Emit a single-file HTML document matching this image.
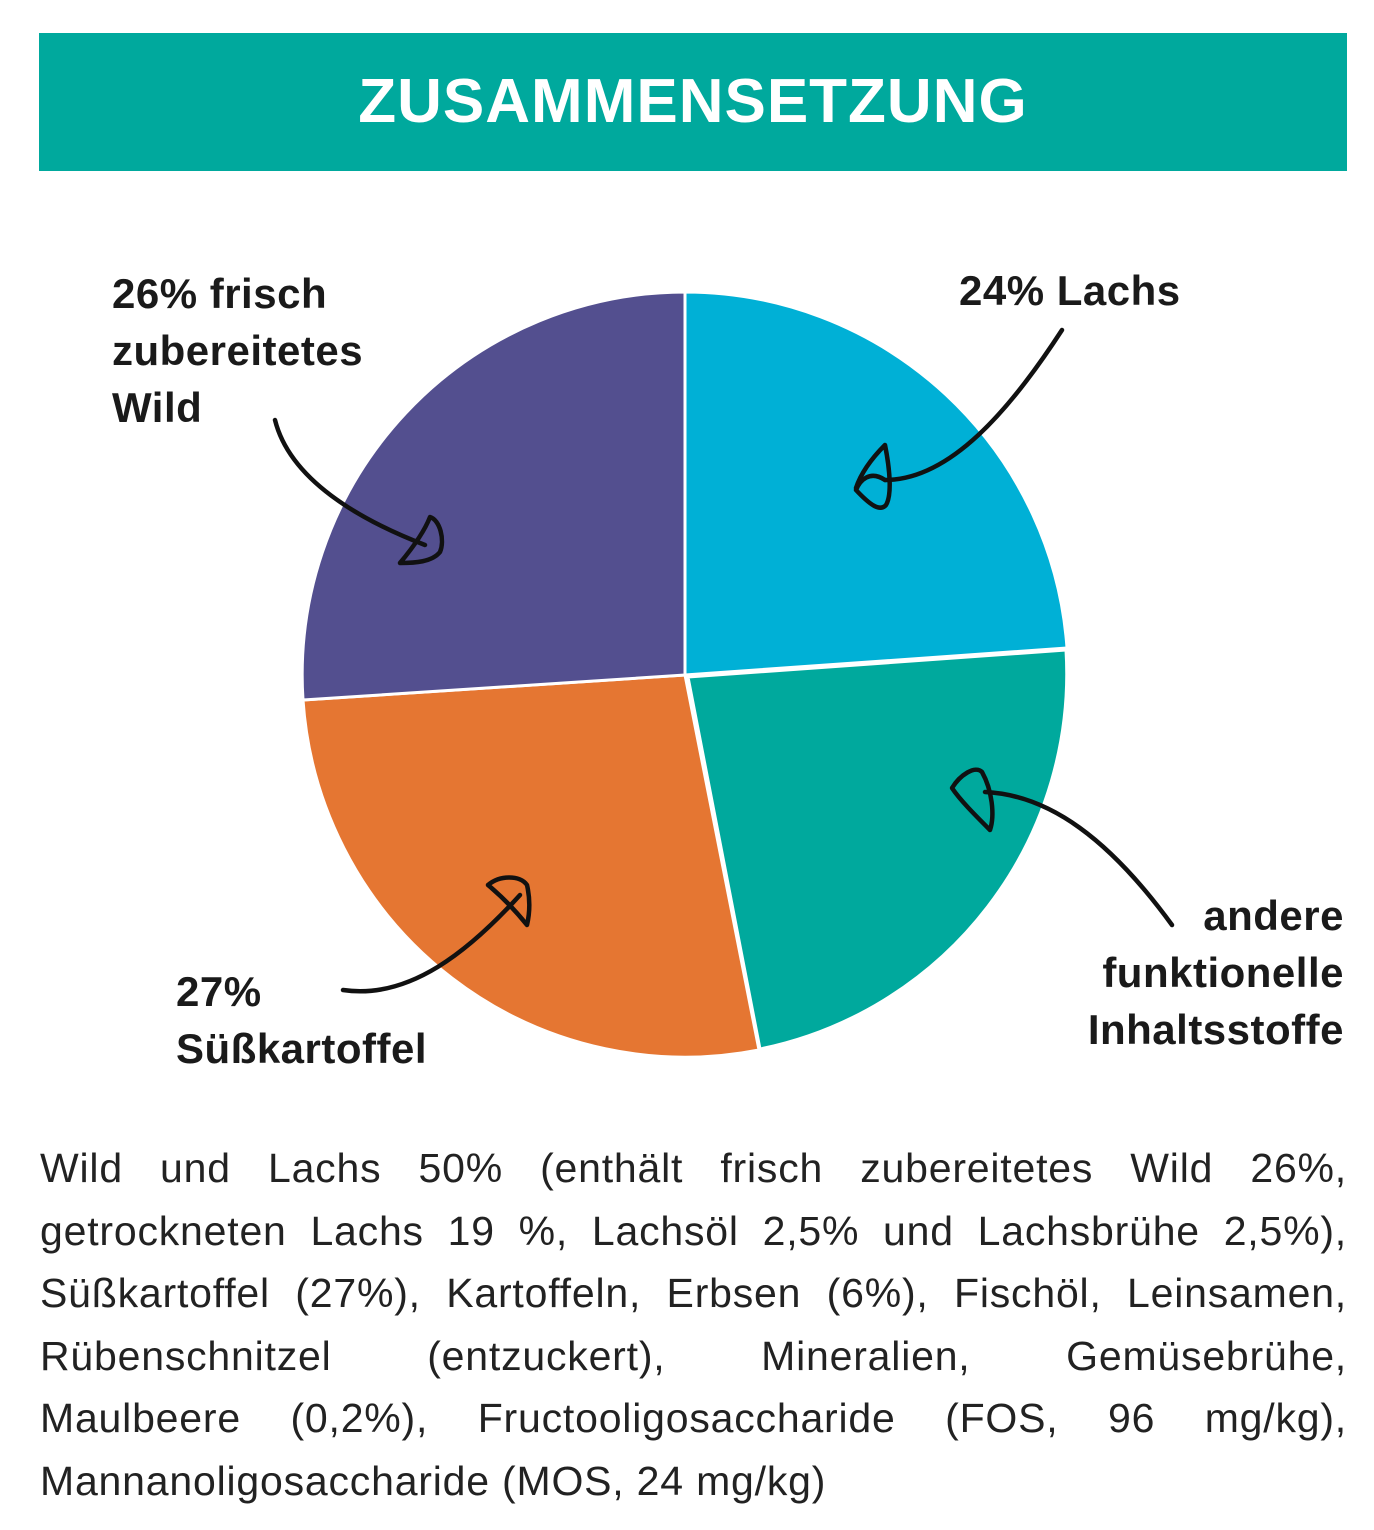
<!DOCTYPE html>
<html><head><meta charset="utf-8"><style>
html,body{margin:0;padding:0;background:#fff;}
body{width:1374px;height:1530px;position:relative;overflow:hidden;font-family:"Liberation Sans","DejaVu Sans",sans-serif;}
.bar{position:absolute;left:39px;top:33px;width:1308px;height:138px;background:#00a99d;color:#fff;font-weight:bold;font-size:62px;text-align:center;line-height:138px;letter-spacing:1px;}
.lbl{position:absolute;font-weight:bold;font-size:42px;line-height:57px;color:#1a1a1a;letter-spacing:0.5px;}
.txt{position:absolute;left:40px;top:1137px;width:1307px;font-size:41px;line-height:62.5px;color:#222;letter-spacing:0.8px;}
.txt div{text-align:justify;text-align-last:justify;height:62.5px;white-space:nowrap;}
.txt div.last{text-align-last:left;}
</style></head><body>
<div class="bar">ZUSAMMENSETZUNG</div>
<svg width="1374" height="1530" style="position:absolute;left:0;top:0">
<g stroke="#fff" stroke-width="3" stroke-linejoin="round">
<path d="M685,675 L685,292 A383,383 0 0 1 1067,648 Z" fill="#00b0d6"/>
<path d="M688,677 L1066,650 A383,383 0 0 1 760,1049 Z" fill="#00a99d"/>
<path d="M685,675 L759,1050 A383,383 0 0 1 303,700 Z" fill="#e57632"/>
<path d="M685,675 L303,700 A383,383 0 0 1 685,292 Z" fill="#534f8f"/>
</g>
<g fill="none" stroke="#111" stroke-width="4.5" stroke-linecap="round" stroke-linejoin="round">
<path d="M1062,330 C1010,410 950,480 885,480"/>
<path d="M885,480 C870,470 860,480 856,490 C870,505 880,512 886,505 C892,495 890,470 885,445 C875,455 862,470 856,488"/>
<path d="M275,420 C290,480 360,520 425,545"/>
<path d="M400,563 C415,545 425,530 430,517 C440,520 445,540 440,552 C432,562 415,563 400,563 Z"/>
<path d="M1172,925 C1110,840 1050,795 985,792"/>
<path d="M990,830 C975,815 960,800 952,788 C960,775 975,765 982,772 C992,790 995,815 990,830 Z"/>
<path d="M343,990 C410,1000 470,950 520,895"/>
<path d="M527,925 C515,910 500,895 488,885 C500,875 520,875 527,885 C530,898 530,912 527,925 Z"/>
</g>
</svg>
<div class="lbl" style="left:112px;top:265px">26% frisch<br>zubereitetes<br>Wild</div>
<div class="lbl" style="left:959px;top:262px">24% Lachs</div>
<div class="lbl" style="left:1040px;top:887px;width:304px;text-align:right">andere<br>funktionelle<br>Inhaltsstoffe</div>
<div class="lbl" style="left:176px;top:963px">27%<br>Süßkartoffel</div>
<div class="txt">
<div>Wild und Lachs 50% (enthält frisch zubereitetes Wild 26%,</div>
<div>getrockneten Lachs 19 %, Lachsöl 2,5% und Lachsbrühe 2,5%),</div>
<div>Süßkartoffel (27%), Kartoffeln, Erbsen (6%), Fischöl, Leinsamen,</div>
<div>Rübenschnitzel (entzuckert), Mineralien, Gemüsebrühe,</div>
<div>Maulbeere (0,2%), Fructooligosaccharide (FOS, 96 mg/kg),</div>
<div class="last">Mannanoligosaccharide (MOS, 24 mg/kg)</div>
</div>
</body></html>
